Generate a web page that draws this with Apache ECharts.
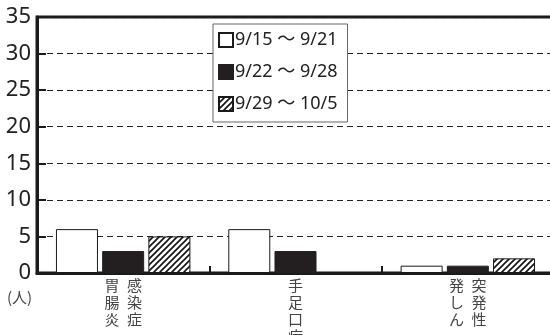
<!DOCTYPE html>
<html>
<head>
<meta charset="utf-8">
<script src="https://cdn.jsdelivr.net/npm/echarts@6/dist/echarts.min.js"></script>
<style>
  html, body { margin: 0; padding: 0; background: #fff; }
  #chart { width: 550px; height: 335px; }
</style>
</head>
<body>
<div id="chart"></div>
<script>
// categories are written as vertical text, two columns read right to left
const categories = ['胃\u2002感\n腸\u2002染\n炎\u2002症', '手\n足\n口\n病', '発\u2002突\nし\u2002発\nん\u2002性']
const weeks = ['9/15 〜 9/21', '9/22 〜 9/28', '9/29 〜 10/5']
const week1 = [6, 6, 1]
const week2 = [3, 3, 1]
const week3 = [5, 0, 2]
const yTicks = [0, 5, 10, 15, 20, 25, 30, 35]

function hatchPattern() {
  const c = document.createElement('canvas')
  c.width = 6
  c.height = 6
  const ctx = c.getContext('2d')
  ctx.fillStyle = '#fff'
  ctx.fillRect(0, 0, 6, 6)
  ctx.strokeStyle = '#111'
  ctx.lineWidth = 1.6
  ctx.beginPath()
  ctx.moveTo(-1, 7); ctx.lineTo(7, -1)
  ctx.moveTo(-4, 4); ctx.lineTo(4, -4)
  ctx.moveTo(2, 10); ctx.lineTo(10, 2)
  ctx.stroke()
  return c
}

const font = "'Noto Sans', 'Noto Sans CJK JP', sans-serif"
const chart = echarts.init(document.getElementById('chart'))

chart.setOption({
  animation: false,
  textStyle: { fontFamily: font },
  grid: {
    left: 37, top: 17, right: -4, bottom: 62,
    outerBoundsMode: 'none', containLabel: false,
    show: true, borderColor: '#1a1a1a', borderWidth: 3, backgroundColor: 'transparent'
  },
  legend: {
    orient: 'vertical',
    left: 213, top: 24,
    padding: [7, 10, 9, 5],
    itemWidth: 14, itemHeight: 14, itemGap: 14,
    backgroundColor: '#fff',
    borderColor: '#666', borderWidth: 1,
    textStyle: { fontSize: 18, color: '#222', padding: [0, 0, 0, -3] },
    data: weeks.map(name => ({ name, icon: 'rect' }))
  },
  xAxis: {
    type: 'category',
    data: categories,
    axisLine: { lineStyle: { color: '#1a1a1a', width: 3 } },
    axisTick: { show: true, inside: true, length: 7, lineStyle: { color: '#1a1a1a', width: 2 } },
    axisLabel: {
      margin: 4, fontSize: 15, lineHeight: 17, color: '#444',
      fontFamily: "'Noto Sans CJK JP', sans-serif", interval: 0
    }
  },
  yAxis: {
    type: 'value',
    min: 0, max: 35, interval: 5,
    axisLine: { show: true, lineStyle: { color: '#1a1a1a', width: 3 } },
    axisTick: { show: true, inside: true, length: 9, lineStyle: { color: '#1a1a1a', width: 2 } },
    axisLabel: {
      margin: 6, fontSize: 22, color: '#222',
      formatter: v => yTicks.includes(v) ? String(v) : ''
    },
    splitLine: { show: true, lineStyle: { color: '#222', width: 1, type: [6, 4] } }
  },
  series: [
    {
      name: weeks[0], type: 'bar', data: week1,
      barGap: '10%', barCategoryGap: '22%',
      itemStyle: { color: '#fff', borderColor: '#1a1a1a', borderWidth: 1 }
    },
    {
      name: weeks[1], type: 'bar', data: week2,
      itemStyle: { color: '#231f20', borderColor: '#231f20', borderWidth: 1 }
    },
    {
      name: weeks[2], type: 'bar', data: week3,
      itemStyle: { color: { image: hatchPattern(), repeat: 'repeat' }, borderColor: '#1a1a1a', borderWidth: 1 }
    }
  ],
  graphic: [
    {
      type: 'text', left: 7, top: 290,
      style: { text: '(人)', fontSize: 15, fill: '#444', fontFamily: "'Noto Sans CJK JP', sans-serif" }
    }
  ]
})
</script>
</body>
</html>
